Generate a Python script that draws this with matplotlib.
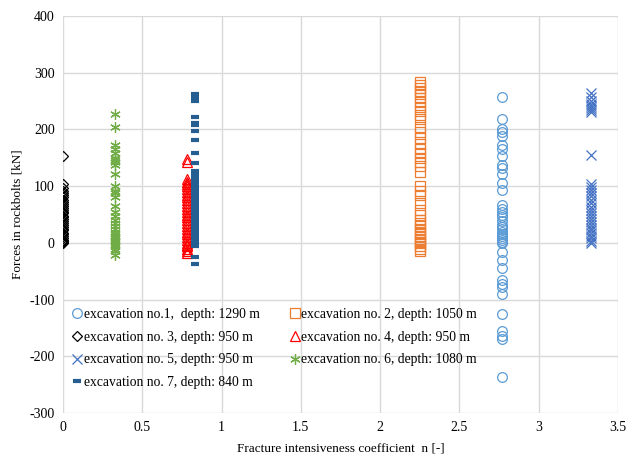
import matplotlib.pyplot as plt

plt.rcParams['font.family'] = ['Liberation Serif', 'DejaVu Serif']
plt.rcParams['axes.unicode_minus'] = False

# fracture intensiveness coefficient of each excavation
n1, n2, n3, n4, n5, n6, n7 = 2.77, 2.25, 0.0, 0.78, 3.33, 0.33, 0.83

# forces in rockbolts [kN]
f1 = [258, 218, 201, 195, 189, 173, 165, 154, 138, 132, 121, 106, 93, 67, 60, 55, 50,
      45, 38, 32, 28, 25, 20, 15, 12, 8, 5, 2, 0, -16, -30, -44, -65, -72, -77, -91,
      -126, -156, -165, -170, -237]
f2 = [283, 278, 273, 268, 262, 255, 248, 240, 232, 225, 218, 205, 195, 185, 175, 165,
      158, 150, 142, 135, 125, 100, 92, 85, 70, 58, 50, 40, 35, 30, 25, 20, 15, 10, 5,
      2, 0, -5, -10, -15]
f3 = [153, 103, 97, 92, 88, 84, 80, 76, 72, 68, 65, 62, 58, 55, 52, 48, 45, 42, 38, 35,
      32, 28, 25, 22, 18, 15, 12, 8, 5, 3, 1, 0]
f4 = [148, 142, 112, 108, 104, 100, 95, 90, 85, 80, 75, 70, 65, 60, 55, 50, 45, 40, 35,
      30, 25, 20, 15, 10, 5, 0, -3, -6, -10, -14, -17]
f5 = [265, 258, 250, 245, 241, 238, 235, 230, 155, 103, 98, 93, 88, 82, 76, 70, 64, 58,
      52, 47, 42, 37, 32, 27, 22, 17, 12, 8, 4, 0]
f6 = [228, 204, 172, 165, 158, 150, 146, 142, 138, 122, 100, 92, 88, 80, 65, 55, 48, 40,
      35, 30, 25, 20, 15, 12, 10, 8, 5, 3, 0, -3, -6, -10, -14, -21]
f7 = [263, 259, 255, 250, 222, 212, 207, 198, 182, 158, 140, 126, 120, 115, 110, 105,
      100, 95, 90, 85, 80, 75, 70, 65, 60, 55, 50, 45, 40, 35, 30, 25, 20, 15, 10, 5, 0,
      -5, -25, -37]

labels = ['excavation no.1,  depth: 1290 m', 'excavation no. 2, depth: 1050 m',
          'excavation no. 3, depth: 950 m', 'excavation no. 4, depth: 950 m',
          'excavation no. 5, depth: 950 m', 'excavation no. 6, depth: 1080 m',
          'excavation no. 7, depth: 840 m']

fig = plt.figure(figsize=(6.27, 4.59), dpi=100)
ax = fig.add_axes([0.1005, 0.1002, 0.8851, 0.8649])

h1, = ax.plot([n1]*len(f1), f1, 'o', ms=7, mfc='none', mec='#5B9BD5', mew=0.9, label=labels[0])
h2, = ax.plot([n2]*len(f2), f2, 's', ms=6.5, mfc='none', mec='#ED7D31', mew=0.9, label=labels[1])
h3, = ax.plot([n3]*len(f3), f3, 'D', ms=5.5, mfc='none', mec='black', mew=0.9, label=labels[2])
h4, = ax.plot([n4]*len(f4), f4, '^', ms=7, mfc='none', mec='#FF0000', mew=0.9, label=labels[3])
h5, = ax.plot([n5]*len(f5), f5, 'x', ms=7, mec='#4472C4', mew=0.9, label=labels[4])
h6, = ax.plot([n6]*len(f6), f6, marker=(6, 2, 0), ls='none', ms=7.5, mec='#70AD47', mew=0.9,
              label=labels[5])
h7, = ax.plot([n7]*len(f7), f7, '_', ms=6, mec='#255E91', mew=3, label=labels[6])

ax.set_xlim(0, 3.5)
ax.set_ylim(-300, 400)
ax.set_xticks([0, 0.5, 1, 1.5, 2, 2.5, 3, 3.5])
ax.set_xticklabels(['0', '0.5', '1', '1.5', '2', '2.5', '3', '3.5'])
ax.set_yticks(range(-300, 401, 100))
ax.grid(True, color='#D9D9D9', lw=1)
ax.set_axisbelow(True)
for s in ax.spines.values():
    s.set_visible(False)
ax.tick_params(length=0, labelsize=10, pad=6)

ax.set_xlabel('Fracture intensiveness coefficient  n [-]', fontsize=9.5, labelpad=6)
ax.set_ylabel('Forces in rockbolts [kN]', fontsize=9.5, labelpad=4)

# row-wise ordering: column 1 gets 1,3,5,7 and column 2 gets 2,4,6
hs = [h1, h3, h5, h7, h2, h4, h6]
ax.legend(hs, [h.get_label() for h in hs], loc='lower left', bbox_to_anchor=(0.0, 0.037),
          ncol=2, frameon=False, fontsize=9.8, handlelength=0.7, handletextpad=0.15,
          columnspacing=2.2, labelspacing=0.7, borderaxespad=0.3)

fig.savefig('out.png', dpi=100)
